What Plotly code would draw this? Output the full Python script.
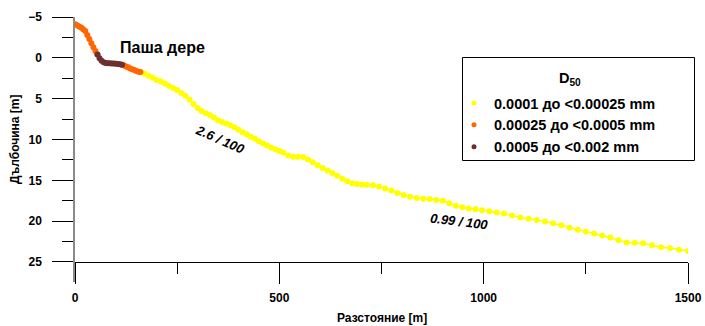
import plotly.graph_objects as go

# ---------------- data ----------------
# Segment 1: 0.00025 до <0.0005 mm (orange), shore part
dist_or1 = [0, 5, 10, 15, 20, 25, 30, 35, 40, 45, 50, 55]
depth_or1 = [-4.1, -4.0, -3.85, -3.7, -3.5, -3.3, -2.8, -2.3, -1.8, -1.3, -0.85, -0.4]

# Segment 2: 0.0005 до <0.002 mm (brown)
dist_br = [55, 60, 65, 70, 75, 80, 85, 90, 95, 100, 105, 110, 115]
depth_br = [-0.4, 0.05, 0.35, 0.55, 0.62, 0.65, 0.66, 0.68, 0.7, 0.72, 0.75, 0.78, 0.85]

# Segment 3: 0.00025 до <0.0005 mm (orange)
dist_or2 = [115, 120, 125, 130, 135, 140, 145, 150, 155, 160]
depth_or2 = [0.85, 0.95, 1.05, 1.15, 1.3, 1.4, 1.5, 1.6, 1.7, 1.75]

# Segment 4: 0.0001 до <0.00025 mm (yellow)
dist_ye = [160, 170, 180, 190, 200, 210, 220, 230, 240, 250, 260, 270, 280, 290,
           300, 310, 320, 330, 340, 350, 360, 370, 380, 390, 400, 410, 420, 430,
           440, 450, 460, 470, 480, 490, 500, 510, 522, 534, 546, 558, 570, 582,
           594, 606, 618, 630, 642, 654, 666, 678, 690, 702, 714, 729, 744, 759,
           774, 789, 804, 820, 836, 852, 868, 884, 900, 916, 932, 948, 964, 980,
           996, 1014, 1032, 1050, 1070, 1090, 1110, 1130, 1150, 1170, 1190, 1210,
           1230, 1250, 1270, 1290, 1310, 1330, 1350, 1370, 1390, 1412, 1434, 1456,
           1478, 1500]
depth_ye = [1.75, 1.95, 2.2, 2.45, 2.7, 2.9, 3.15, 3.45, 3.7, 3.95, 4.3, 4.65, 5.1, 5.65,
            6.15, 6.5, 6.8, 7.0, 7.3, 7.65, 7.85, 8.05, 8.25, 8.5, 8.8, 9.1, 9.35, 9.65,
            9.9, 10.2, 10.5, 10.75, 11.0, 11.2, 11.4, 11.6, 11.95, 12.1, 12.1, 12.15, 12.45, 12.8,
            13.15, 13.5, 13.8, 14.1, 14.45, 14.8, 15.1, 15.35, 15.45, 15.5, 15.55, 15.6, 15.75, 16.0,
            16.25, 16.55, 16.8, 17.0, 17.15, 17.25, 17.3, 17.4, 17.5, 17.8, 18.1, 18.3, 18.45, 18.55,
            18.65, 18.8, 18.95, 19.05, 19.3, 19.55, 19.7, 19.85, 20.05, 20.25, 20.5, 20.8,
            21.05, 21.3, 21.5, 21.75, 22.0, 22.35, 22.6, 22.65, 22.7, 22.95, 23.2, 23.3,
            23.5, 23.65]

legend_title = "D<sub>50</sub>"
legend_names = ["0.0001 до <0.00025 mm", "0.00025 до <0.0005 mm", "0.0005 до <0.002 mm"]
legend_colors = ["#FFFF00", "#FF6600", "#6B3030"]

x_ticks = [0, 500, 1000, 1500]
y_ticks = [-5, 0, 5, 10, 15, 20, 25]

# ---------------- figure ----------------
FONT = "Liberation Sans, Arial, sans-serif"
fig = go.Figure()

segments = [
    (dist_ye, depth_ye, legend_colors[0]),
    (dist_or1, depth_or1, legend_colors[1]),
    (dist_or2, depth_or2, legend_colors[1]),
    (dist_br, depth_br, legend_colors[2]),
]
for xs, ys, col in segments:
    fig.add_trace(go.Scatter(
        x=xs, y=ys, mode="lines+markers",
        line=dict(color=col, width=1.5),
        marker=dict(color=col, size=6, line=dict(width=0)),
        showlegend=False, hoverinfo="skip"))

for name, col in zip(legend_names, legend_colors):
    fig.add_trace(go.Scatter(
        x=[None], y=[None], mode="markers", name=name,
        marker=dict(color=col, size=5)))

plot_h = 265
plot_w = 613


def px(x):
    return (x - 75) / plot_w


def py(y):
    return (282 - y) / plot_h


fig.update_layout(
    width=705, height=326, autosize=False,
    margin=dict(l=75, r=17, t=17, b=44, pad=0, autoexpand=False),
    paper_bgcolor="white", plot_bgcolor="white",
    font=dict(family=FONT, color="black", size=12),
    xaxis=dict(
        range=[0, 1500], anchor="free", position=20 / plot_h, automargin=False,
        showgrid=False, zeroline=False,
        showline=True, linecolor="black", linewidth=1,
        ticks="outside", ticklen=21, tickwidth=1, tickcolor="black",
        tickmode="array", tickvals=x_ticks,
        ticklabelstandoff=4,
        tickfont=dict(family=FONT, size=12, weight="bold"),
        minor=dict(ticks="outside", ticklen=11, tickwidth=1, tickcolor="black",
                   dtick=250, tick0=0, showgrid=False),
    ),
    yaxis=dict(
        range=[27.45, -5], anchor="x", automargin=False,
        showgrid=False, zeroline=False,
        showline=True, linecolor="#8a8a8a", linewidth=1.5,
        ticks="outside", ticklen=21, tickwidth=1, tickcolor="black",
        tickmode="array", tickvals=y_ticks,
        ticklabelstandoff=8,
        tickfont=dict(family=FONT, size=12, weight="bold"),
        minor=dict(ticks="outside", ticklen=11, tickwidth=1, tickcolor="black",
                   dtick=2.5, tick0=0, showgrid=False),
    ),
    legend=dict(
        x=px(454), y=py(87), xanchor="left", yanchor="top",
        bgcolor="rgba(0,0,0,0)", borderwidth=0,
        font=dict(family=FONT, size=14.5, weight="bold"),
        itemwidth=30, tracegroupgap=0,
    ),
    shapes=[
        dict(type="rect", xref="paper", yref="paper",
             x0=px(462.5), x1=px(694.5), y0=py(160.5), y1=py(57.5),
             line=dict(color="black", width=1), fillcolor="white", layer="above"),
    ],
    annotations=[
        dict(text=legend_title, xref="paper", yref="paper", x=px(570), y=py(79),
             showarrow=False, font=dict(family=FONT, size=14.5, weight="bold"),
             xanchor="center", yanchor="middle"),
        dict(text="<b>Разстояние [m]</b>", xref="paper", yref="paper", x=0.5, y=py(318),
             showarrow=False, font=dict(family=FONT, size=12), xanchor="center", yanchor="middle"),
        dict(text="<b>Дълбочина [m]</b>", xref="paper", yref="paper", x=px(15), y=py(140),
             showarrow=False, textangle=-90, font=dict(family=FONT, size=12),
             xanchor="center", yanchor="middle"),
        dict(text="<b>Паша дере</b>", xref="x", yref="y", x=213, y=-1.3,
             showarrow=False, font=dict(family=FONT, size=16)),
        dict(text="<b><i>2.6 / 100</i></b>", xref="x", yref="y", x=355, y=10.0,
             showarrow=False, textangle=24, font=dict(family=FONT, size=13)),
        dict(text="<b><i>0.99 / 100</i></b>", xref="x", yref="y", x=940, y=20.0,
             showarrow=False, textangle=7, font=dict(family=FONT, size=13)),
    ],
)

fig.write_html("out.html")
